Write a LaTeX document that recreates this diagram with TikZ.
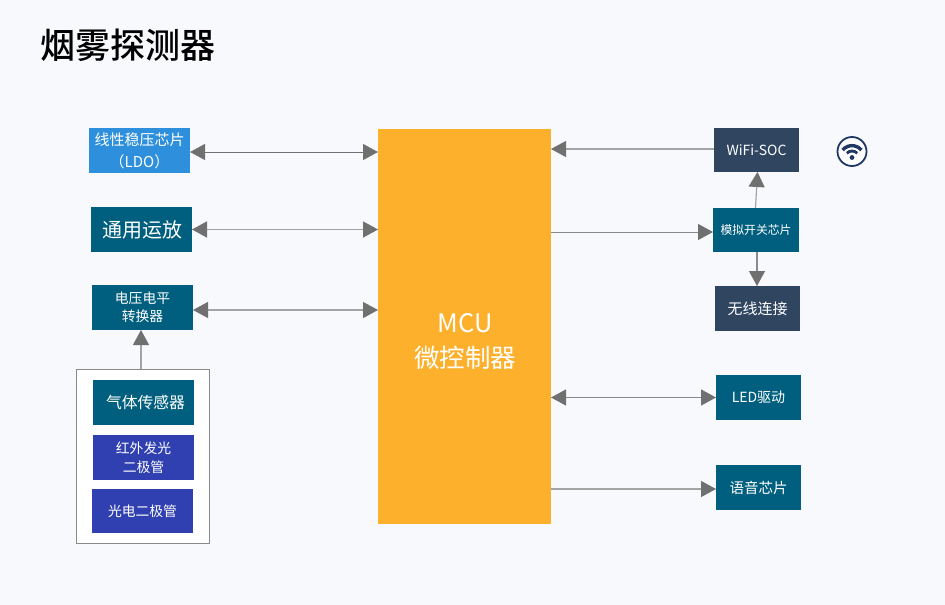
\documentclass[tikz,border=0pt]{standalone}
\usepackage{fontspec}
\setmainfont{Noto Sans CJK SC}
\newfontfamily\titlefont{Noto Sans CJK SC Medium}
\usetikzlibrary{arrows.meta}
\definecolor{bgc}{HTML}{F7F9FC}
\definecolor{bluea}{HTML}{2E90DC}
\definecolor{tealb}{HTML}{005F7E}
\definecolor{navyc}{HTML}{2F4560}
\definecolor{indigod}{HTML}{3040B0}
\definecolor{amber}{HTML}{FDB02B}
\definecolor{tipc}{HTML}{707070}
\definecolor{linec}{HTML}{8A8A8A}
\definecolor{lightline}{HTML}{A3A3A3}
\definecolor{iconc}{HTML}{1F3864}
\newcommand{\pxbox}[7]{% name, x0, y0, x1, y1, style, text
  \node[#6, minimum width=#4pt-#2pt, minimum height=#5pt-#3pt] (#1) at ({(#2+#4)/2},{(#3+#5)/2}) {#7};}
\tikzset{
  x=1pt,y=-1pt,
  block/.style={inner sep=0pt,outer sep=0pt,text=white,align=center,font=\fontsize{14}{19}\selectfont},
  ldobox/.style={block,fill=bluea},
  tealbox/.style={block,fill=tealb},
  navybox/.style={block,fill=navyc},
  indigobox/.style={block,fill=indigod},
  mcubox/.style={block,fill=amber},
  framebox/.style={inner sep=0pt,outer sep=0pt,draw=linec,fill=white,line width=1pt},
  conn/.style={draw=linec,line width=1.2pt,-{Triangle[length=15pt,width=16pt,color=tipc]}},
  dconn/.style={draw=linec,line width=1.2pt,{Triangle[length=15pt,width=16pt,color=tipc]}-{Triangle[length=15pt,width=16pt,color=tipc]}},
  rconn/.style={draw=linec,line width=1.2pt,{Triangle[length=15pt,width=16pt,color=tipc]}-},
}
\begin{document}
\begin{tikzpicture}
\useasboundingbox (0,0) rectangle (945,605);
\fill[bgc] (0,0) rectangle (945,605);
\node[anchor=west,inner sep=0pt,font=\fontsize{35}{40}\selectfont\titlefont] (title) at (40,45) {烟雾探测器};

\pxbox{frame}{76}{369}{209}{543}{framebox}{}
\pxbox{mcu}{378}{129}{551}{524}{mcubox}{}
\node[inner sep=0pt,text=white,align=center,font=\fontsize{25.5}{35}\selectfont] (mcutext) at (465,342) {MCU\\微控制器};
\pxbox{ldo}{89}{128}{190}{173}{ldobox,font=\fontsize{15}{22}\selectfont}{线性稳压芯片\\（LDO）}
\pxbox{opamp}{91}{207}{192}{252}{tealbox,font=\fontsize{20}{24}\selectfont}{\hspace{1pt}通用运放}
\pxbox{level}{92}{285}{193}{330}{tealbox,font=\fontsize{13.8}{18}\selectfont}{电压电平\\转换器}
\pxbox{gas}{93}{380}{194}{425}{tealbox,font=\fontsize{15.8}{20}\selectfont}{\hspace{4pt}气体传感器}
\pxbox{ir}{93}{435}{194}{480}{indigobox,font=\fontsize{13.8}{19}\selectfont}{红外发光\\二极管}
\pxbox{pd}{92}{489}{193}{533}{indigobox,font=\fontsize{13.8}{19}\selectfont}{光电二极管}
\pxbox{wifi}{714}{128}{799}{172}{navybox}{WiFi-SOC}
\pxbox{sw}{713}{208}{799}{252}{tealbox,font=\fontsize{11.8}{16}\selectfont}{模拟开关芯片}
\pxbox{wl}{715}{286}{800}{331}{navybox,font=\fontsize{15}{20}\selectfont}{无线连接}
\pxbox{led}{716}{375}{801}{420}{tealbox}{LED驱动}
\pxbox{voice}{716}{465}{801}{510}{tealbox,font=\fontsize{14.5}{20}\selectfont}{语音芯片}

\draw[dconn,line width=1pt,draw=tipc] ([yshift=-1.5pt]ldo.east) -- ([yshift=-1.5pt]ldo.east -| mcu.west);
\draw[dconn,line width=1.6pt,draw=lightline] (opamp.east) -- (opamp.east -| mcu.west);
\draw[dconn,draw=lightline] ([yshift=-2.5pt]level.east) -- ([yshift=-2.5pt]level.east -| mcu.west);
\draw[rconn,draw=lightline] ([yshift=1pt]wifi.west -| mcu.east) -- ([yshift=1pt]wifi.west);
\draw[conn,line width=1pt] ([yshift=-2pt]sw.west -| mcu.east) -- ([yshift=-2pt]sw.west);
\draw[dconn] (led.west -| mcu.east) -- (led.west);
\draw[conn,draw=lightline] ([yshift=-1.5pt]voice.west -| mcu.east) -- ([yshift=-1.5pt]voice.west);
\draw[conn,draw=lightline] ([xshift=-0.5pt]sw.north) -- ([xshift=1pt]wifi.south);
\draw[conn] ([xshift=1pt]sw.south) -- ([xshift=1pt]sw.south |- wl.north);
\draw[conn,draw=lightline] ([xshift=-1.5pt]frame.north) -- ([xshift=-1.5pt]level.south);

% WiFi icon
\node[circle,draw=iconc,line width=1.8pt,minimum size=29pt,inner sep=0pt,fill=white] (icon) at (852,151.5) {};
\draw[iconc,line width=3.4pt] (842.6,150) arc[start angle=220,end angle=320,radius=12.3];
\draw[iconc,line width=2.8pt] (846.8,153.2) arc[start angle=225,end angle=315,radius=7.4];
\fill[iconc] (852,157.5) circle (2.4);
\end{tikzpicture}
\end{document}
